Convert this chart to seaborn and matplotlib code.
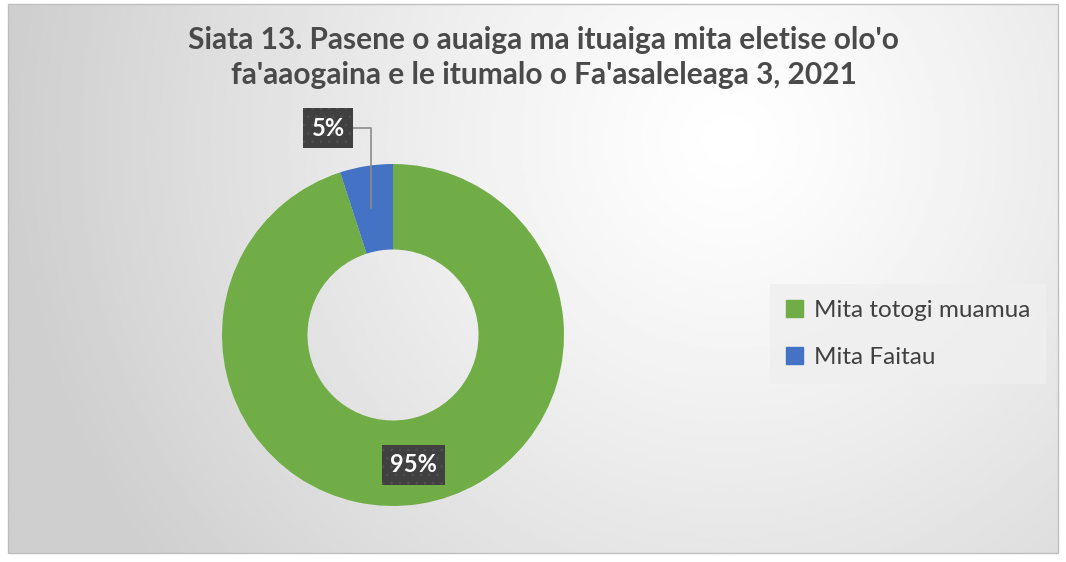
import numpy as np
import matplotlib
matplotlib.use("Agg")
import matplotlib.pyplot as plt
from matplotlib.patches import Rectangle
import seaborn as sns

TITLE = "Siata 13. Pasene o auaiga ma ituaiga mita eletise olo'o\nfa'aaogaina e le itumalo o Fa'asaleleaga 3, 2021"
CATEGORIES = ["Mita totogi muamua", "Mita Faitau"]
SHARES = [95, 5]
COLORS = ["#70ad47", "#4472c4"]

sns.set_style("white")
plt.rcParams['font.family'] = ['Lato', 'DejaVu Sans']
plt.rcParams['hatch.linewidth'] = 0.6

W, H = 1066, 562
fig = plt.figure(figsize=(W / 100, H / 100), dpi=100)
fig.patch.set_facecolor("white")

# chart area (pixels, from top-left)
cx0, cy0, cx1, cy1 = 8, 4, 1058, 553

# radial gradient background
bg = fig.add_axes([cx0 / W, 1 - cy1 / H, (cx1 - cx0) / W, (cy1 - cy0) / H])
bg.set_axis_off()
xx, yy = np.meshgrid(np.linspace(cx0, cx1, 400), np.linspace(cy0, cy1, 220))
d = np.sqrt((xx - 730) ** 2 + (yy - 140) ** 2) / 720
shade = 1.0 - 0.19 * np.clip(d, 0, 1) ** 1.2
bg.imshow(shade, cmap="gray", vmin=0, vmax=1, extent=[0, 1, 0, 1], aspect="auto", origin="upper")
bg.set_xlim(0, 1)
bg.set_ylim(0, 1)
fig.patches.append(Rectangle((cx0 / W, 1 - cy1 / H), (cx1 - cx0) / W, (cy1 - cy0) / H,
                             transform=fig.transFigure, fill=False, edgecolor="#bfbfbf", lw=1.0))

# donut axes: center (393, 335), radius 171 px
R, cxp, cyp = 171, 393, 335
span = 1.3
size = 2 * span * R
ax = fig.add_axes([(cxp - size / 2) / W, (H - cyp - size / 2) / H, size / W, size / H])
ax.set_axis_off()
wedges, _ = ax.pie(SHARES, colors=COLORS, startangle=90, counterclock=False,
                   wedgeprops=dict(width=0.5, edgecolor="none"))
ax.set_xlim(-span, span)
ax.set_ylim(-span, span)
ax.set_aspect("equal")

box = dict(boxstyle="square,pad=0.35", facecolor="#404040", edgecolor="#505050",
           lw=0, hatch="..")
ax.annotate(f"{SHARES[1]}%", xy=(-0.13, 0.74), xytext=(-0.38, 1.21),
            ha="center", va="center", fontsize=17, fontweight="bold", color="white",
            bbox=box,
            arrowprops=dict(arrowstyle="-", color="#8c8c8c", lw=1.2,
                            connectionstyle="angle,angleA=0,angleB=90,rad=0",
                            shrinkA=0, shrinkB=0),
            annotation_clip=False)
ax.text(0.12, -0.76, f"{SHARES[0]}%", ha="center", va="center", fontsize=17,
        fontweight="bold", color="white", bbox=box)

fig.text(0.51, 0.898, TITLE, ha="center", va="center", fontsize=21.5,
         fontweight="bold", color="#4a4a4a", linespacing=1.3)

handles = [plt.Rectangle((0, 0), 1, 1, color=c) for c in COLORS]
leg = fig.legend(handles, CATEGORIES, loc="center left", bbox_to_anchor=(765 / W, 1 - 334 / H),
                 frameon=True, fontsize=17.5, handlelength=0.7, handleheight=0.7,
                 labelspacing=1.05, handletextpad=0.45, borderpad=0.65, borderaxespad=0.2,
                 fancybox=False, labelcolor="#404040")
leg.get_frame().set_facecolor("#efefef")
leg.get_frame().set_edgecolor("none")
leg.get_frame().set_alpha(0.8)

fig.savefig("out.png", dpi=100)
